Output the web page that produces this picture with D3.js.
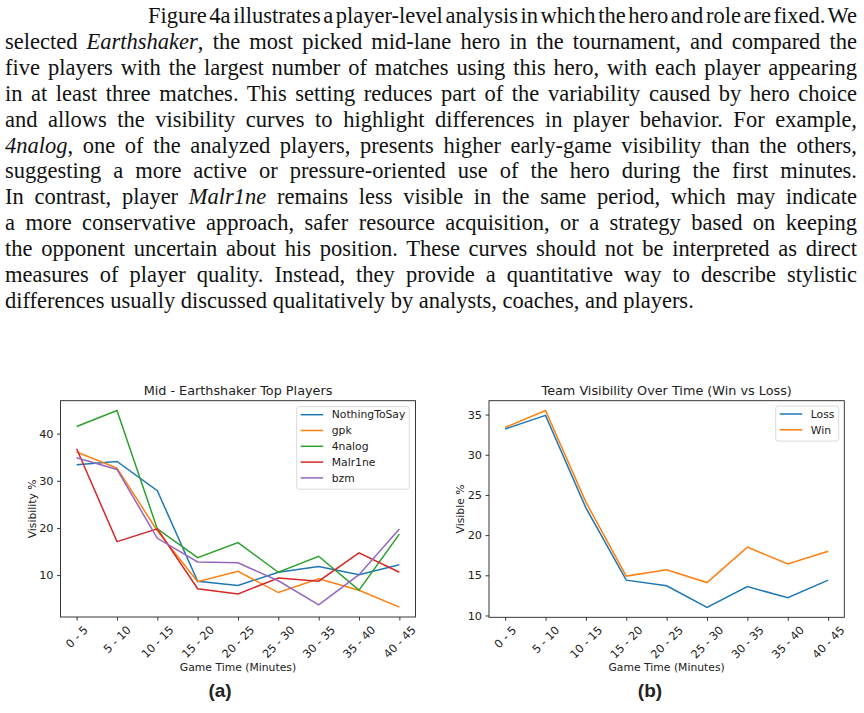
<!DOCTYPE html>
<html>
  <head>
    <meta charset="utf-8">
    <title>Visibility</title>
    <script src="https://d3js.org/d3.v7.min.js"></script>
    <style>
      body { margin: 0; background: white; }
      #wrap { position: relative; width: 864px; height: 713px; overflow: hidden; }
      #para { position: absolute; left: 5px; top: 3px; width: 852px;
        font-family: "Liberation Serif", "Times New Roman", serif; font-size: 22.5px;
        line-height: 25.9px; color: #111; }
      #para div { white-space: nowrap; }
      #para span { display: inline-block; white-space: nowrap; }
      svg { position: absolute; left: 0; top: 0; }
      svg text { font-family: "DejaVu Sans", sans-serif; fill: #222; }
      .frame { fill: none; stroke: #222; stroke-width: 0.9; }
      .plot { fill: none; stroke-width: 1.5; }
      .caption { font-family: "Liberation Sans", Arial, sans-serif !important; font-weight: bold; font-size: 19px; }
    </style>
  </head>
  <body>
    <div id="wrap">
      <div id="para"></div>
    </div>
    <script>
      var bins = ['0 - 5', '5 - 10', '10 - 15', '15 - 20', '20 - 25', '25 - 30', '30 - 35', '35 - 40', '40 - 45'];

      var players = ['NothingToSay', 'gpk', '4nalog', 'Malr1ne', 'bzm'];
      var nothingToSay = [33.4, 34.1, 27.9, 8.7, 7.8, 10.6, 11.8, 10.1, 12.2];
      var gpk = [36.1, 32.7, 19.4, 8.6, 10.8, 6.3, 9.2, 6.8, 3.2];
      var analog = [41.5, 44.9, 19.8, 13.7, 16.9, 10.6, 14.0, 6.8, 18.7];
      var malr1ne = [36.8, 17.1, 19.8, 7.1, 6.0, 9.4, 8.7, 14.7, 10.6];
      var bzm = [34.9, 32.4, 17.8, 12.8, 12.6, 8.8, 3.7, 10.1, 19.8];
      var leftTicks = [10, 20, 30, 40];

      var outcomes = ['Loss', 'Win'];
      var loss = [33.2, 34.9, 23.4, 14.4, 13.7, 11.0, 13.6, 12.2, 14.4];
      var win = [33.4, 35.5, 24.1, 14.9, 15.7, 14.1, 18.5, 16.4, 18.0];
      var rightTicks = [10, 15, 20, 25, 30, 35];

      var colors = ['#1f77b4', '#ff7f0e', '#2ca02c', '#d62728', '#9467bd'];

      var lines = [
        'Figure 4a illustrates a player-level analysis in which the hero and role are fixed. We',
        'selected <i>Earthshaker</i>, the most picked mid-lane hero in the tournament, and compared the',
        'five players with the largest number of matches using this hero, with each player appearing',
        'in at least three matches. This setting reduces part of the variability caused by hero choice',
        'and allows the visibility curves to highlight differences in player behavior. For example,',
        '<i>4nalog</i>, one of the analyzed players, presents higher early-game visibility than the others,',
        'suggesting a more active or pressure-oriented use of the hero during the first minutes.',
        'In contrast, player <i>Malr1ne</i> remains less visible in the same period, which may indicate',
        'a more conservative approach, safer resource acquisition, or a strategy based on keeping',
        'the opponent uncertain about his position. These curves should not be interpreted as direct',
        'measures of player quality. Instead, they provide a quantitative way to describe stylistic',
        'differences usually discussed qualitatively by analysts, coaches, and players.'
      ];

      // paragraph: justify each line by spreading (or shrinking) its word gaps, as TeX does
      var rows = d3.select('#para').selectAll('div').data(lines).enter().append('div')
        .style('padding-left', function(d, i){ return i == 0 ? '143px' : '0px' });
      var spans = rows.append('span').html(function(d){ return d });
      spans.each(function(d, i){
        if (i == lines.length - 1) return;
        var w = this.getBoundingClientRect().width;
        var gaps = (this.textContent.match(/ /g) || []).length;
        var target = i == 0 ? 852 - 143 : 852;
        d3.select(this).style('word-spacing', ((target - w) / gaps) + 'px');
      });

      var svg = d3.select('#wrap').append('svg').attr('width', 864).attr('height', 713);

      function chart(opts) {
        var g = svg.append('g');
        var all = d3.merge(opts.series);
        var lo = d3.min(all), hi = d3.max(all), pad = (hi - lo) * 0.05;
        var x = d3.scaleLinear().domain([-0.4, bins.length - 1 + 0.4]).range([opts.left, opts.right]);
        var y = d3.scaleLinear().domain([lo - pad, hi + pad]).range([opts.bottom, opts.top]);

        var line = d3.line()
          .x(function(d, i){ return x(i) })
          .y(function(d){ return y(d) });

        g.selectAll('.plot').data(opts.series).enter().append('path')
          .attr('class', 'plot')
          .attr('d', line)
          .attr('stroke', function(d, i){ return colors[i] });

        // y axis
        var ya = g.append('g').attr('transform', 'translate(' + opts.left + ',0)')
          .call(d3.axisLeft(y).tickValues(opts.ticks).tickSize(3.5).tickPadding(3.5));
        ya.select('.domain').remove();
        ya.selectAll('line').attr('stroke', '#222').attr('stroke-width', 0.9);
        ya.selectAll('text').style('font-size', '11.3px').style('font-family', 'DejaVu Sans').attr('fill', '#222');

        // x axis
        var xa = g.append('g').attr('transform', 'translate(0,' + opts.bottom + ')')
          .call(d3.axisBottom(x).tickValues(d3.range(bins.length)).tickSize(3.5).tickFormat(function(i){ return bins[i] }));
        xa.select('.domain').remove();
        xa.selectAll('line').attr('stroke', '#222').attr('stroke-width', 0.9);
        xa.selectAll('text')
          .style('font-size', '11.3px').style('font-family', 'DejaVu Sans').attr('fill', '#222')
          .attr('text-anchor', 'middle').attr('dy', null).attr('dominant-baseline', 'central')
          .each(function(){
            var w = this.getComputedTextLength(), h = 11.3 * 0.9;
            var half = (w + h) * Math.SQRT1_2 / 2;
            d3.select(this).attr('y', 7.5 + half).attr('transform', 'rotate(-45,0,' + (7.5 + half) + ')');
          });

        g.append('rect').attr('class', 'frame')
          .attr('x', opts.left).attr('y', opts.top)
          .attr('width', opts.right - opts.left).attr('height', opts.bottom - opts.top);

        var cx = (opts.left + opts.right) / 2;
        g.append('text').attr('x', cx).attr('y', opts.top - 6).attr('text-anchor', 'middle')
          .style('font-size', '12.8px').text(opts.title);
        g.append('text').attr('x', cx).attr('y', 670.5).attr('text-anchor', 'middle')
          .style('font-size', '10.8px').text('Game Time (Minutes)');
        g.append('text').attr('transform', 'translate(' + opts.ylabX + ',' + ((opts.top + opts.bottom) / 2) + ') rotate(-90)')
          .attr('text-anchor', 'middle').attr('dy', '0.35em')
          .style('font-size', '10.8px').text(opts.ylabel);
        g.append('text').attr('class', 'caption').attr('x', opts.capX).attr('y', 697)
          .attr('text-anchor', 'middle').text(opts.caption);

        // legend
        var lg = g.append('g');
        lg.append('rect').attr('x', opts.leg[0]).attr('y', opts.leg[1])
          .attr('width', opts.leg[2]).attr('height', 15.8 * opts.names.length + 3.5)
          .attr('rx', 2.5).attr('fill', 'white').attr('stroke', '#d6d6d6').attr('stroke-width', 0.9);
        var items = lg.selectAll('.item').data(opts.names).enter().append('g')
          .attr('transform', function(d, i){ return 'translate(' + (opts.leg[0] + 4) + ',' + (opts.leg[1] + 8 + i * 15.8) + ')' });
        items.append('line').attr('x1', 0).attr('x2', 22.5)
          .attr('stroke', function(d, i){ return colors[i] }).attr('stroke-width', 1.5);
        items.append('text').attr('x', 31).attr('dy', '0.35em').style('font-size', '10.8px').text(function(d){ return d });
      }

      chart({
        series: [nothingToSay, gpk, analog, malr1ne, bzm], names: players, ticks: leftTicks,
        left: 60.5, right: 415.5, top: 400.7, bottom: 617,
        title: 'Mid - Earthshaker Top Players', ylabel: 'Visibility %', ylabX: 32,
        caption: '(a)', capX: 220, leg: [296.7, 406.7, 112.6]
      });

      chart({
        series: [loss, win], names: outcomes, ticks: rightTicks,
        left: 489, right: 844.3, top: 400.7, bottom: 617.3,
        title: 'Team Visibility Over Time (Win vs Loss)', ylabel: 'Visible %', ylabX: 460,
        caption: '(b)', capX: 650, leg: [775.7, 406, 63]
      });
    </script>
  </body>
</html>
